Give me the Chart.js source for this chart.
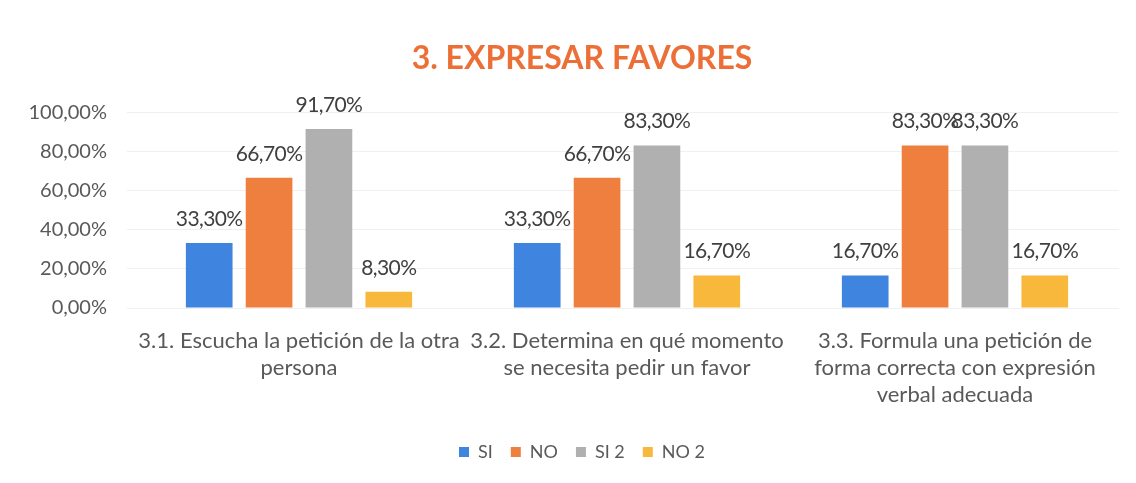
<!DOCTYPE html>
<html><head><meta charset="utf-8">
<script src="https://cdn.jsdelivr.net/npm/chart.js@4/dist/chart.umd.min.js"></script>
<style>html,body{margin:0;padding:0;background:#fff}#wrap{width:1136px;height:483px}</style>
</head><body><div id="wrap"><canvas id="c" width="1136" height="483"></canvas></div>
<script>
const categories = [
  ["3.1. Escucha la petición de la otra", "persona"],
  ["3.2. Determina en qué momento", "se necesita pedir un favor"],
  ["3.3. Formula una petición de", "forma correcta con expresión", "verbal adecuada"]
];
const seriesNames = ["SI", "NO", "SI 2", "NO 2"];
const si = [33.3, 33.3, 16.7];
const no = [66.7, 66.7, 83.3];
const si2 = [91.7, 83.3, 83.3];
const no2 = [8.3, 16.7, 16.7];
const colors = ["#3f84df", "#ef7f3f", "#b0b0b0", "#f7b83c"];
const yTicks = [0, 20, 40, 60, 80, 100];

const fmt = v => v.toFixed(2).replace('.', ',') + '%';
const FONT = "Lato, 'Liberation Sans', sans-serif";

const labelPlugin = {
  id: 'barLabels',
  afterDatasetsDraw(chart) {
    const ctx = chart.ctx;
    ctx.save();
    ctx.font = "21px " + FONT;
    try { ctx.letterSpacing = "-0.6px"; } catch (e) {}
    ctx.fillStyle = "#404040";
    ctx.textAlign = "center";
    ctx.textBaseline = "alphabetic";
    chart.data.datasets.forEach((ds, i) => {
      const meta = chart.getDatasetMeta(i);
      meta.data.forEach((bar, j) => {
        ctx.fillText(fmt(ds.data[j]), bar.x, bar.y - 17);
      });
    });
    ctx.restore();
  }
};

new Chart(document.getElementById('c'), {
  type: 'bar',
  data: {
    labels: categories,
    datasets: [si, no, si2, no2].map((d, i) => ({
      label: seriesNames[i], data: d, backgroundColor: colors[i],
      categoryPercentage: 0.73, barPercentage: 0.78
    }))
  },
  options: {
    responsive: false, animation: false,
    layout: { padding: { left: 28, right: 0, top: 10, bottom: 12 } },
    plugins: {
      title: { display: true, text: "3. EXPRESAR FAVORES", color: "#ec6f37",
        font: { family: FONT, size: 32, weight: 'bold', lineHeight: 1.2 }, padding: { top: 29, bottom: 35.5 } },
      legend: { position: 'bottom', labels: { color: "#595959", boxWidth: 10, boxHeight: 10,
        font: { family: FONT, size: 18 }, padding: 18 } },
      tooltip: { enabled: false }
    },
    scales: {
      x: { grid: { display: false }, border: { display: false },
        afterFit: s => { s.height = 117; },
        ticks: { color: "#595959", font: { family: FONT, size: 22, lineHeight: 1.23 }, maxRotation: 0, autoSkip: false, padding: 11 } },
      y: { min: 0, max: 100, afterBuildTicks: ax => { ax.ticks = yTicks.map(v => ({ value: v })); },
        afterFit: s => { s.width = 107; },
        grid: { color: "#f0f0f0" }, border: { display: false },
        ticks: { color: "#595959", font: { family: FONT, size: 20 }, padding: 20, callback: v => fmt(v) } },
      yr: { position: 'right', display: true, grid: { display: false }, border: { display: false },
        ticks: { display: false }, afterFit: s => { s.width = 17; } }
    }
  },
  plugins: [labelPlugin]
});
</script></body></html>
